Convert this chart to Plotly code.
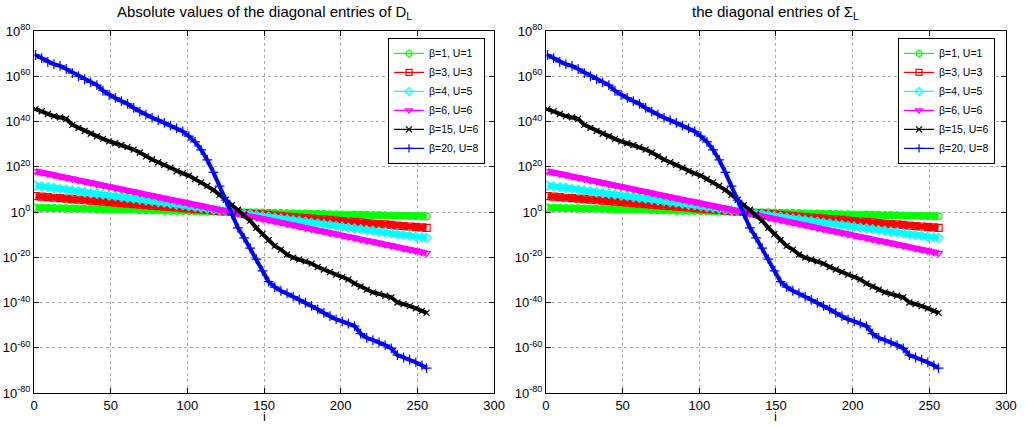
import plotly.graph_objects as go

# index i (every 4th diagonal entry, plus the last one)
i_idx = list(range(1, 254, 4)) + [256]

# log10 of the values
green_exp = [1.9, 1.8, 1.8, 1.7, 1.7, 1.6, 1.5, 1.5, 1.4, 1.4,
             1.3, 1.2, 1.2, 1.1, 1.1, 1.0, 1.0, 0.9, 0.8, 0.8,
             0.7, 0.6, 0.6, 0.5, 0.5, 0.4, 0.4, 0.3, 0.2, 0.2,
             0.1, 0.1, 0.0, -0.1, -0.1, -0.2, -0.2, -0.3, -0.4, -0.4,
             -0.5, -0.5, -0.6, -0.7, -0.7, -0.8, -0.8, -0.9, -1.0, -1.0,
             -1.1, -1.1, -1.2, -1.3, -1.3, -1.4, -1.4, -1.5, -1.6, -1.6,
             -1.7, -1.7, -1.8, -1.8, -1.9]
red_exp = [7.0, 6.8, 6.6, 6.3, 6.1, 5.9, 5.7, 5.5, 5.2, 5.0,
           4.8, 4.6, 4.4, 4.1, 3.9, 3.7, 3.5, 3.3, 3.0, 2.8,
           2.6, 2.4, 2.2, 2.0, 1.7, 1.5, 1.3, 1.1, 0.9, 0.6,
           0.4, 0.2, 0.0, -0.2, -0.5, -0.7, -0.9, -1.1, -1.3, -1.6,
           -1.8, -2.0, -2.2, -2.4, -2.7, -2.9, -3.1, -3.3, -3.5, -3.8,
           -4.0, -4.2, -4.4, -4.6, -4.9, -5.1, -5.3, -5.5, -5.7, -6.0,
           -6.2, -6.4, -6.6, -6.8, -7.0]
cyan_exp = [11.7, 11.3, 11.0, 10.6, 10.2, 9.9, 9.5, 9.2, 8.8, 8.4,
            8.1, 7.7, 7.3, 7.0, 6.6, 6.2, 5.9, 5.5, 5.1, 4.8,
            4.4, 4.1, 3.7, 3.3, 3.0, 2.6, 2.2, 1.9, 1.5, 1.1,
            0.8, 0.4, 0.1, -0.3, -0.7, -1.0, -1.4, -1.8, -2.1, -2.5,
            -2.9, -3.2, -3.6, -3.9, -4.3, -4.7, -5.0, -5.4, -5.8, -6.1,
            -6.5, -6.9, -7.2, -7.6, -8.0, -8.3, -8.7, -9.0, -9.4, -9.8,
            -10.1, -10.5, -10.9, -11.2, -11.5]
magenta_exp = [18.0, 17.4, 16.9, 16.3, 15.7, 15.2, 14.6, 14.0, 13.5, 12.9,
               12.3, 11.8, 11.2, 10.6, 10.1, 9.5, 8.9, 8.3, 7.8, 7.2,
               6.6, 6.1, 5.5, 4.9, 4.4, 3.8, 3.2, 2.7, 2.1, 1.5,
               1.0, 0.4, -0.2, -0.7, -1.3, -1.9, -2.4, -3.0, -3.6, -4.1,
               -4.7, -5.3, -5.8, -6.4, -7.0, -7.6, -8.1, -8.7, -9.3, -9.8,
               -10.4, -11.0, -11.5, -12.1, -12.7, -13.2, -13.8, -14.4, -14.9, -15.5,
               -16.1, -16.6, -17.2, -17.8, -18.2]
black_exp = [45.5, 44.5, 43.3, 42.4, 41.8, 41.2, 38.5, 37.2, 35.8, 34.6,
             33.5, 32.3, 31.2, 30.4, 29.6, 28.8, 27.6, 26.3, 24.6, 23.2,
             22.0, 20.8, 19.6, 18.0, 17.1, 16.1, 14.6, 13.1, 11.6, 9.8,
             7.6, 5.4, 3.0, 1.0, -1.2, -3.8, -7.0, -9.8, -12.4, -15.0,
             -16.6, -18.8, -20.2, -21.0, -21.8, -22.8, -24.3, -25.4, -26.5, -27.7,
             -28.8, -29.8, -31.6, -33.0, -34.3, -35.5, -36.2, -37.0, -37.7, -40.0,
             -40.7, -41.6, -42.6, -43.7, -44.6]
blue_exp = [69.4, 68.0, 66.3, 65.3, 64.6, 63.2, 61.4, 60.0, 58.6, 57.3,
            56.1, 53.6, 51.8, 50.4, 49.0, 47.8, 46.0, 44.4, 43.0, 41.7,
            40.6, 39.4, 38.2, 37.0, 35.6, 33.5, 31.0, 27.5, 23.0, 17.5,
            11.4, 5.2, -0.8, -7.0, -11.4, -16.0, -20.8, -26.0, -30.8, -33.2,
            -34.8, -36.0, -37.4, -38.8, -40.2, -41.5, -43.0, -44.6, -46.0, -47.5,
            -48.3, -49.3, -50.4, -53.8, -55.6, -56.6, -57.6, -58.8, -60.3, -63.3,
            -64.3, -65.3, -66.5, -67.8, -69.0]

series_names = ["β=1, U=1", "β=3, U=3", "β=4, U=5", "β=6, U=6", "β=15, U=6", "β=20, U=8"]
series_vals = [green_exp, red_exp, cyan_exp, magenta_exp, black_exp, blue_exp]
colors = ["#00ff00", "#ff0000", "#00ffff", "#ff00ff", "#000000", "#0000ff"]
symbols = ["circle-open", "square-open", "diamond-open", "triangle-down-open", "x-thin-open", "cross-thin-open"]
band_w = [6, 6, 6, 6, 4, 4]
msizes = [7, 7, 7, 7, 6, 7]

y_exps = list(range(-80, 81, 20))
x_ticks = list(range(0, 301, 50))
titles = ["Absolute values of the diagonal entries of D<sub>L</sub>",
          "the diagonal entries of Σ<sub>L</sub>"]

FONT = "Liberation Sans, Arial, Helvetica, sans-serif"

fig = go.Figure()
panels = [("x", "y", "legend"), ("x2", "y2", "legend2")]
for xa, ya, leg in panels:
    for name, vals, col, sym, bw, ms in zip(series_names, series_vals, colors, symbols, band_w, msizes):
        fig.add_trace(go.Scatter(
            x=i_idx, y=[10 ** v for v in vals], xaxis=xa, yaxis=ya,
            mode="lines+markers", line=dict(color=col, width=bw),
            marker=dict(symbol=sym, size=ms, color=col, line=dict(color=col, width=1.2)),
            showlegend=False, hoverinfo="skip"))
    for name, col, sym in zip(series_names, colors, symbols):
        fig.add_trace(go.Scatter(
            x=[None], y=[None], xaxis=xa, yaxis=ya, name=name, legend=leg,
            mode="lines+markers", line=dict(color=col, width=1.2),
            marker=dict(symbol=sym, size=6, color=col, line=dict(color=col, width=1.2))))

axis_common = dict(showline=True, linecolor="black", linewidth=1, mirror="allticks",
                   ticks="inside", ticklen=5, tickcolor="black", automargin=False,
                   showgrid=True, gridcolor="#a8a8a8", griddash="dot", gridwidth=1,
                   zeroline=False, tickfont=dict(size=13, color="black", family=FONT))

xax = dict(range=[0, 300], tickvals=x_ticks, ticktext=[str(t) for t in x_ticks], **axis_common)
yax = dict(type="log", range=[-80, 80], tickvals=[10.0 ** e for e in y_exps],
           ticktext=["10<sup>%d</sup>" % e for e in y_exps], **axis_common)

d1 = [0.0, 0.4733]
d2 = [0.5267, 1.0]
legend_common = dict(yanchor="top", xanchor="right", y=0.981, bgcolor="white",
                     bordercolor="black", borderwidth=1, itemwidth=30,
                     font=dict(size=10.5, family=FONT, color="black"), tracegroupgap=0)

fig.update_layout(
    width=1026, height=427,
    template="none",
    paper_bgcolor="white", plot_bgcolor="white",
    font=dict(family=FONT, color="black", size=12),
    margin=dict(l=34, r=20, t=31, b=34),
    xaxis=dict(domain=d1, anchor="y", **xax),
    yaxis=dict(domain=[0, 1], anchor="x", **yax),
    xaxis2=dict(domain=d2, anchor="y2", **xax),
    yaxis2=dict(domain=[0, 1], anchor="x2", **yax),
    legend=dict(x=0.464, **legend_common),
    legend2=dict(x=0.9887, **legend_common),
    showlegend=True,
    annotations=[
        dict(text=titles[0], x=sum(d1) / 2, y=1.05, xref="paper", yref="paper",
             xanchor="center", yanchor="middle", showarrow=False, font=dict(size=15, family=FONT)),
        dict(text=titles[1], x=sum(d2) / 2, y=1.05, xref="paper", yref="paper",
             xanchor="center", yanchor="middle", showarrow=False, font=dict(size=15, family=FONT)),
        dict(text="i", x=150, xref="x", y=-0.066, yref="paper", xanchor="center", yanchor="middle",
             showarrow=False, borderpad=0, font=dict(size=13, family=FONT)),
        dict(text="i", x=150, xref="x2", y=-0.066, yref="paper", xanchor="center", yanchor="middle",
             showarrow=False, borderpad=0, font=dict(size=13, family=FONT)),
    ],
)

fig.write_html("out.html", config={"displayModeBar": False},
               post_script="document.body.style.margin='0px';document.body.style.padding='0px';")
